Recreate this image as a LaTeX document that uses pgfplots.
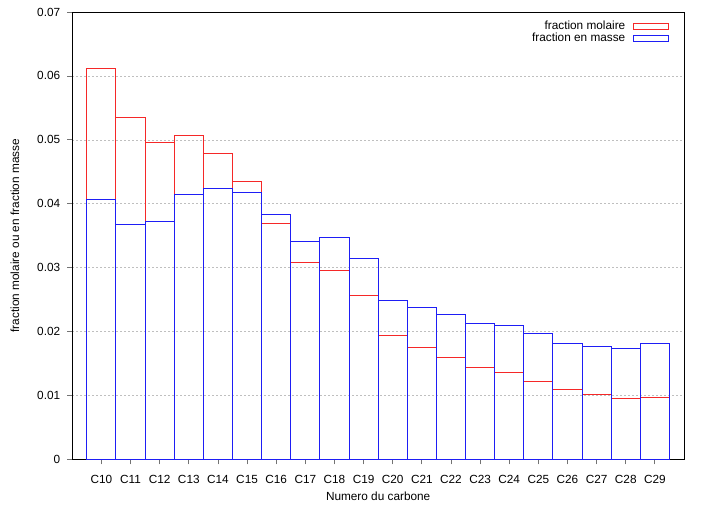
\documentclass[border=0pt]{standalone}
\usepackage{fontspec}
\setmainfont{Liberation Sans}
\usepackage{pgfplots}
\pgfplotsset{compat=1.18}
\definecolor{gred}{RGB}{245,40,40}
\definecolor{gblue}{RGB}{30,30,245}
\begin{document}
\fontsize{11.8}{14}\selectfont
\begin{tikzpicture}
\path[use as bounding box] (-72.3pt,-44.7pt) rectangle (632.7pt,459.3pt);
\begin{axis}[
  at={(0pt,0pt)}, anchor=south west,
  scale only axis, width=611.7pt, height=447.3pt,
  xmin=9, xmax=30, ymin=0, ymax=0.07,
  xtick={10,...,29},
  xticklabels={C10,C11,C12,C13,C14,C15,C16,C17,C18,C19,C20,C21,C22,C23,C24,C25,C26,C27,C28,C29},
  ytick={0,0.01,0.02,0.03,0.04,0.05,0.06,0.07},
  yticklabels={0,0.01,0.02,0.03,0.04,0.05,0.06,0.07},
  scaled y ticks=false,
  /pgf/number format/assume math mode=true,
  tick align=outside, tick pos=left,
  major tick length=5pt,
  tick style={black!55, line width=0.8pt},
  xticklabel style={yshift=-7pt},
  yticklabel style={xshift=-3pt},
  axis line style={line width=0.9pt},
  ymajorgrids,
  major grid style={black!25, line width=0.5pt, dash pattern=on 2pt off 2pt},
  xlabel={Numero du carbone},
  ylabel={fraction molaire ou en fraction masse},
  every axis x label/.style={at={(axis description cs:0.5,-0.082)}, anchor=center},
  every axis y label/.style={at={(axis description cs:-0.0937,0.5)}, anchor=center, rotate=90},
  legend style={draw=none, fill=none, at={(axis description cs:0.981,0.985)}, anchor=north east,
    row sep=0pt, column sep=8pt, nodes={inner sep=0pt, text height=8.6pt, text depth=2.9pt}},
  legend plot pos=right,
  legend cell align=right,
]
\addplot[ybar, bar width=1, bar shift=0pt, draw=gred, fill=none, line width=1pt,
  legend image code/.code={\draw[gred, line width=0.9pt] (0pt,-3pt) rectangle (35pt,3pt);}]
coordinates {(10,0.0612) (11,0.0535) (12,0.0495) (13,0.0507) (14,0.0478) (15,0.0434) (16,0.0369) (17,0.0308) (18,0.0296) (19,0.0257) (20,0.0194) (21,0.0175) (22,0.0160) (23,0.0144) (24,0.0136) (25,0.0122) (26,0.0109) (27,0.0102) (28,0.0095) (29,0.0096)};
\addlegendentry{fraction molaire}
\addplot[ybar, bar width=1, bar shift=0pt, draw=gblue, fill=none, line width=1pt,
  legend image code/.code={\draw[gblue, line width=0.9pt] (0pt,-3pt) rectangle (35pt,3pt);}]
coordinates {(10,0.0407) (11,0.0368) (12,0.0372) (13,0.0415) (14,0.0424) (15,0.0418) (16,0.0383) (17,0.0341) (18,0.0347) (19,0.0315) (20,0.0249) (21,0.0238) (22,0.0227) (23,0.0213) (24,0.0210) (25,0.0197) (26,0.0182) (27,0.0177) (28,0.0174) (29,0.0181)};
\addlegendentry{fraction en masse}
\end{axis}
\end{tikzpicture}
\end{document}
